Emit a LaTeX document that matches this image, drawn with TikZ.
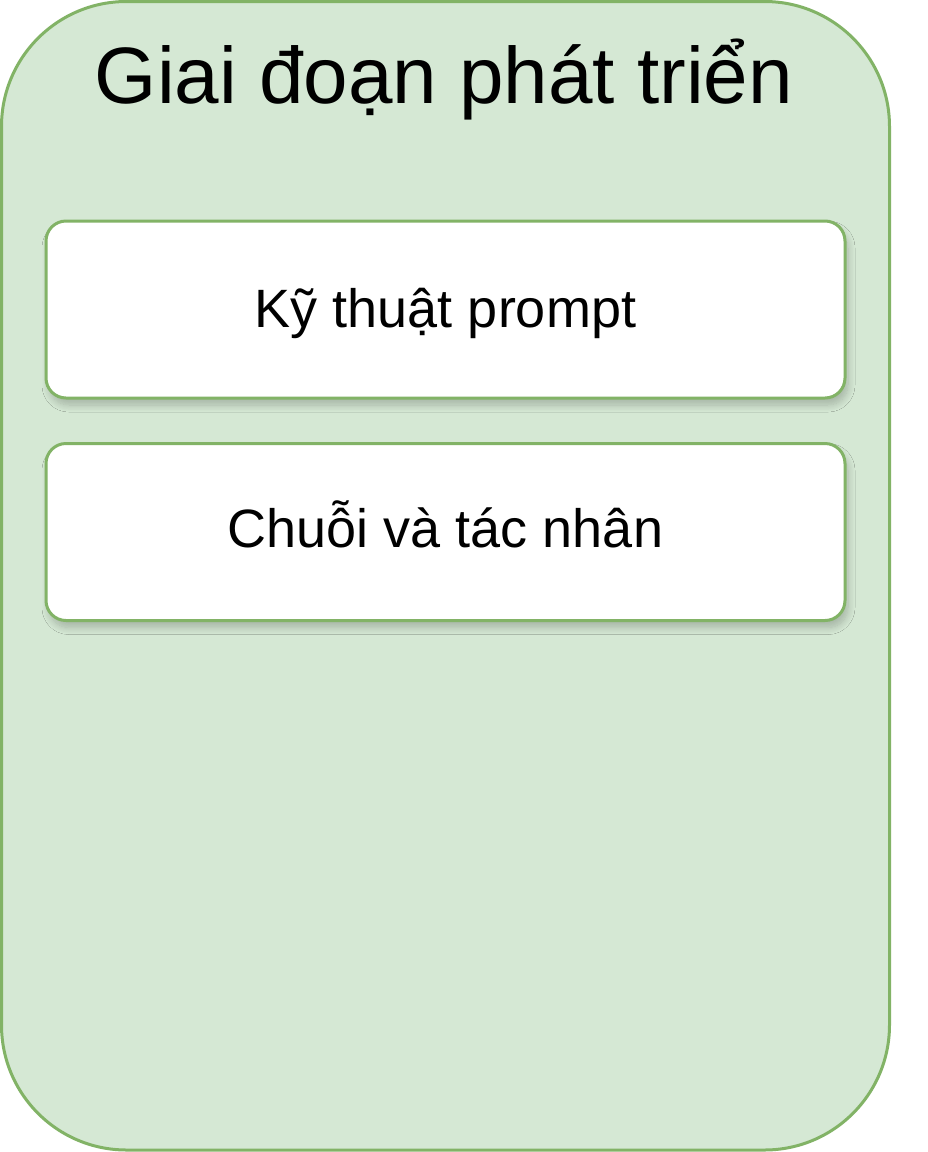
\documentclass[tikz,border=0pt]{standalone}
\usepackage{fontspec}
\setmainfont{Liberation Sans}
\usetikzlibrary{shadows.blur}
\definecolor{grfill}{HTML}{D5E8D4}
\definecolor{grline}{HTML}{82B366}
\begin{document}
\begin{tikzpicture}[x=1pt,y=-1pt,
  outerbox/.style={draw=grline,fill=grfill,line width=3pt,rounded corners=125pt},
  itembox/.style={draw=grline,fill=white,line width=3pt,rounded corners=20pt,
    minimum width=799pt,minimum height=177pt,inner sep=0pt,text height=37pt,
    blur shadow={shadow xshift=3pt,shadow yshift=-7pt,shadow blur radius=7pt,shadow blur steps=10,shadow opacity=22},
    font=\fontsize{54}{60}\selectfont},
  titletext/.style={font=\fontsize{80}{90}\selectfont,inner sep=0pt,anchor=base}]
\useasboundingbox (0,0) rectangle (928,1152);
\fill[white] (0,0) rectangle (928,1152);
\draw[outerbox] (1.5,1.5) rectangle (889.5,1150);
\node[titletext] (title) at (444,103) {Giai đoạn phát triển};
\node[itembox,text depth=2pt] (k1) at (445.5,309.5) {Kỹ thuật prompt};
\node[itembox,text depth=7pt] (k2) at (445.5,532) {Chuỗi và tác nhân};
\end{tikzpicture}
\end{document}
